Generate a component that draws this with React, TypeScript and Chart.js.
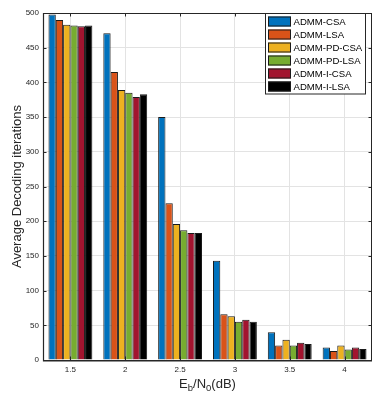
import React, { useEffect, useRef } from "react";
import { Chart, registerables } from "chart.js";

Chart.register(...registerables);

// Eb/N0 operating points (dB)
const snrLabels = ["1.5", "2", "2.5", "3", "3.5", "4"];

// Average decoding iterations per decoder
const admmCsa = [498, 471, 350, 143, 40, 18];
const admmLsa = [490, 415, 226, 66, 21, 13];
const admmPdCsa = [483, 389, 196, 63, 29, 21];
const admmPdLsa = [482, 385, 187, 55, 21, 15];
const admmICsa = [481, 379, 183, 58, 25, 18];
const admmILsa = [482, 383, 183, 55, 23, 16];

const seriesNames = ["ADMM-CSA", "ADMM-LSA", "ADMM-PD-CSA", "ADMM-PD-LSA", "ADMM-I-CSA", "ADMM-I-LSA"];
const seriesColors = ["#0072BD", "#D95319", "#EDB120", "#77AC30", "#A2142F", "#000000"];
const yTicks = [0, 50, 100, 150, 200, 250, 300, 350, 400, 450, 500];

const FONT = "'Liberation Sans', Arial, Helvetica, sans-serif";
const AXIS = "#262626";

const frame = {
  id: "frame",
  afterDatasetsDraw(chart: any) {
    const { ctx, chartArea: a, scales } = chart;
    ctx.save();
    // box around the axes
    ctx.strokeStyle = AXIS;
    ctx.lineWidth = 1;
    ctx.strokeRect(Math.round(a.left) + 0.5, Math.round(a.top) + 0.5, Math.round(a.right - a.left) - 1, Math.round(a.bottom - a.top));
    ctx.lineWidth = 1.2;
    ctx.beginPath();
    ctx.moveTo(a.left + 0.5, a.top);
    ctx.lineTo(a.left + 0.5, a.bottom + 1);
    ctx.lineTo(a.right, a.bottom + 1);
    ctx.stroke();

    // inward tick marks
    ctx.lineWidth = 1;
    ctx.beginPath();
    const xs = scales.x;
    snrLabels.forEach((_, i) => {
      const px = Math.round(xs.getPixelForValue(i)) + 0.5;
      ctx.moveTo(px, a.top);
      ctx.lineTo(px, a.top + 3.5);
      ctx.moveTo(px, a.bottom);
      ctx.lineTo(px, a.bottom - 3.5);
    });
    const ys = scales.y;
    yTicks.forEach((v) => {
      const py = Math.round(ys.getPixelForValue(v)) + 0.5;
      ctx.moveTo(a.left, py);
      ctx.lineTo(a.left + 3.5, py);
      ctx.moveTo(a.right, py);
      ctx.lineTo(a.right - 3.5, py);
    });
    ctx.stroke();
    ctx.restore();
  },
  afterDraw(chart: any) {
    const { ctx, chartArea: a } = chart;
    ctx.save();

    // legend box
    const lx = 265.5, ly = 13.5, lw = 100, lh = 80.5;
    ctx.fillStyle = "#ffffff";
    ctx.fillRect(lx, ly, lw, lh);
    ctx.strokeStyle = AXIS;
    ctx.lineWidth = 1;
    ctx.strokeRect(lx, ly, lw, lh);
    ctx.font = `9.6px ${FONT}`;
    ctx.textBaseline = "middle";
    ctx.textAlign = "left";
    chart.data.datasets.forEach((ds: any, i: number) => {
      const cy = 21.5 + i * 13;
      ctx.fillStyle = ds.backgroundColor;
      ctx.fillRect(268, cy - 5, 23, 10);
      ctx.strokeStyle = "#1a1a1a";
      ctx.strokeRect(268.5, cy - 4.5, 22, 9);
      ctx.fillStyle = "#000000";
      ctx.fillText(ds.label, 293.5, cy + 0.5);
    });

    // x axis title with subscripts
    ctx.fillStyle = AXIS;
    ctx.textBaseline = "alphabetic";
    const big = `13px ${FONT}`;
    const small = `9.5px ${FONT}`;
    const parts: [string, string, number][] = [
      ["E", big, 0],
      ["b", small, 3],
      ["/N", big, 0],
      ["0", small, 3],
      ["(dB)", big, 0],
    ];
    let total = 0;
    parts.forEach(([t, f]) => {
      ctx.font = f;
      total += ctx.measureText(t).width;
    });
    let x = (a.left + a.right) / 2 - total / 2;
    const base = 388;
    parts.forEach(([t, f, dy]) => {
      ctx.font = f;
      ctx.fillText(t, x, base + dy);
      x += ctx.measureText(t).width;
    });

    // y axis title
    ctx.translate(17, (a.top + a.bottom) / 2);
    ctx.rotate(-Math.PI / 2);
    ctx.font = `13px ${FONT}`;
    ctx.textAlign = "center";
    ctx.textBaseline = "middle";
    ctx.fillText("Average Decoding iterations", 0, 0);
    ctx.restore();
  },
};

export default function App() {
  const ref = useRef<HTMLCanvasElement>(null);

  useEffect(() => {
    if (!ref.current) return;
    const values = [admmCsa, admmLsa, admmPdCsa, admmPdLsa, admmICsa, admmILsa];
    const chart = new Chart(ref.current, {
      type: "bar",
      data: {
        labels: snrLabels,
        datasets: values.map((d, i) => ({
          label: seriesNames[i],
          data: d,
          backgroundColor: seriesColors[i],
          borderColor: "#1a1a1a",
          borderWidth: 1,
          categoryPercentage: 0.8,
          barPercentage: 1.0,
        })),
      },
      options: {
        responsive: false,
        animation: false,
        layout: { padding: { top: 13, right: 1, left: 0, bottom: 0 } },
        plugins: { legend: { display: false }, tooltip: { enabled: false } },
        scales: {
          x: {
            type: "category",
            offset: true,
            grid: { offset: false, color: "#e3e3e3", drawTicks: false },
            border: { display: false },
            ticks: { color: AXIS, font: { size: 8, family: FONT }, padding: 5, maxRotation: 0 },
            afterFit: (s: any) => {
              s.height = 35;
            },
          },
          y: {
            min: 0,
            max: 500,
            grid: { color: "#e3e3e3", drawTicks: false },
            border: { display: false },
            ticks: { stepSize: 50, color: AXIS, font: { size: 8, family: FONT }, padding: 4 },
            afterFit: (s: any) => {
              s.width = 43;
            },
          },
        },
      },
      plugins: [frame],
    });
    return () => chart.destroy();
  }, []);

  return (
    <div style={{ position: "fixed", left: 0, top: 0, width: 373, height: 395, background: "#ffffff" }}>
      <canvas ref={ref} width={373} height={395} style={{ display: "block" }} />
    </div>
  );
}
